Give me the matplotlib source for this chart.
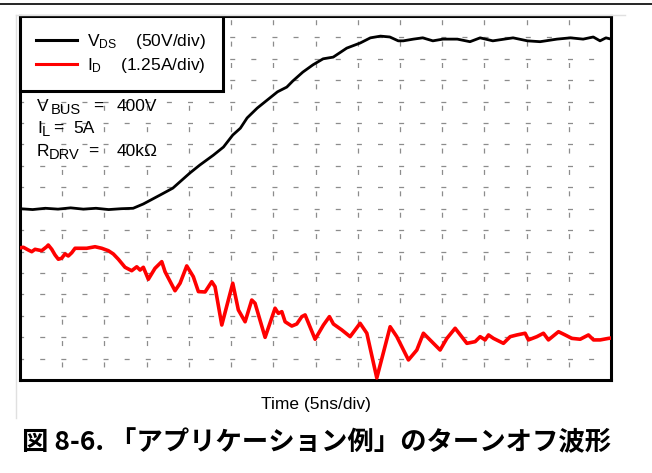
#!/usr/bin/env python3

import matplotlib
matplotlib.use('Agg')
import matplotlib.pyplot as plt
from matplotlib.lines import Line2D

plt.rcParams['font.family'] = ['Liberation Sans', 'DejaVu Sans']
plt.rcParams['mathtext.fontset'] = 'custom'
plt.rcParams['mathtext.rm'] = 'Liberation Sans'
plt.rcParams['mathtext.it'] = 'Liberation Sans:italic'
plt.rcParams['mathtext.bf'] = 'Liberation Sans:bold'
plt.rcParams['lines.scale_dashes'] = False

######################
# waveform data
######################
# V_DS : time [ns], voltage [V]
VDS_T = [0.0, 1.5, 3.0, 4.5, 6.0, 7.5, 9.0, 10.5, 12.0, 13.4, 14.6, 16.6, 18.1,
         20.1, 21.3, 22.9, 24.1, 25.2, 26.1, 26.9, 28.1, 29.3, 30.5, 31.6, 32.3,
         33.5, 34.7, 35.9, 37.1, 38.7, 40.3, 41.5, 42.7, 43.8, 44.8, 45.4, 46.6,
         47.7, 48.9, 50.1, 51.8, 53.3, 54.5, 56.0, 58.4, 60.1, 61.6, 63.6, 65.2,
         66.7, 67.9, 68.7, 69.4, 70.0]
VDS_V = [0, -2, 1, -1, 2, -1, 1, -2, 0, 1, 11, 32, 48,
         83, 102, 125, 144, 172, 188, 212, 235, 254, 273, 284, 298,
         319, 336, 350, 354, 375, 387, 399, 403, 401, 392, 392, 396,
         399, 392, 396, 396, 390, 399, 392, 399, 392, 390, 396, 399,
         396, 401, 392, 399, 396]

# I_D : time [ns], current [A]
ID_T = [0.00, 0.39, 0.98, 1.39, 1.78, 2.57, 3.16, 3.35, 3.76, 4.15, 4.54, 4.94,
        5.33, 5.72, 6.13, 6.52, 7.31, 7.90, 8.89, 9.68, 10.46, 11.05, 11.65,
        12.44, 13.23, 13.83, 14.22, 14.61, 15.20, 15.99, 16.79, 17.18, 18.36,
        18.96, 19.75, 20.53, 21.13, 21.92, 22.71, 23.10, 23.90, 25.20, 25.86,
        26.66, 27.45, 27.84, 29.03, 30.21, 30.60, 31.01, 31.40, 32.19, 32.78,
        33.38, 33.77, 34.95, 35.94, 36.65, 37.12, 38.12, 39.10, 40.28, 41.08,
        42.26, 43.84, 44.63, 46.01, 47.00, 47.78, 48.97, 49.76, 50.56, 51.54,
        52.93, 53.91, 54.50, 55.09, 55.49, 56.08, 57.26, 58.06, 58.85, 59.83,
        60.22, 61.22, 62.00, 62.59, 63.78, 64.57, 65.36, 66.35, 67.33, 67.93,
        68.72, 69.70, 70.00]
ID_A = [5.21, 5.25, 5.09, 4.99, 5.13, 5.05, 5.28, 5.38, 5.13, 4.80, 4.55, 4.61,
        4.86, 4.74, 4.93, 5.19, 5.19, 5.19, 5.28, 5.19, 5.05, 4.86, 4.55,
        4.08, 3.88, 4.11, 3.92, 4.08, 3.38, 4.02, 4.41, 3.82, 2.71,
        3.15, 4.16, 3.53, 2.66, 2.64, 3.24, 2.95, 0.71, 3.15, 1.59,
        0.90, 2.17, 1.98, -0.01, 1.69, 1.39, 1.49, 0.90, 0.65, 0.77,
        1.20, 1.30, -0.12, 0.71, 1.20, 0.77, 0.42, 0.03, 0.81, 0.23,
        -2.38, 0.61, 0.03, -1.33, -0.75, 0.23, -0.36, -0.75, -0.07, 0.52,
        -0.36, -0.26, 0.03, -0.16, 0.13, -0.07, -0.36, 0.03, 0.13, 0.23,
        -0.16, 0.03, 0.23, -0.16, 0.32, 0.13, -0.07, -0.12, 0.13, -0.16,
        -0.16, -0.07, -0.05]

# scope settings
T_DIV = 5.0        # ns/div
V_DIV = 50.0       # V/div
I_DIV = 1.25       # A/div
V_ZERO = 8         # division of the V_DS ground marker
I_ZERO = 2         # division of the I_D ground marker
N_XDIV = 14
N_YDIV = 17

vds_y = [V_ZERO + v / V_DIV for v in VDS_V]
id_y = [I_ZERO + i / I_DIV for i in ID_A]

W, H = 652, 473

def fx(px):
    return px / W

def fy(py):
    return 1 - py / H

###################
# plot
###################
fig = plt.figure(figsize=(W / 100, H / 100), dpi=100)
ax = fig.add_axes([fx(20), fy(380), 591 / W, 364 / H])

ax.set_xlim(0, N_XDIV * T_DIV)
ax.set_ylim(0, N_YDIV)
ax.set_xticks([])
ax.set_yticks([])

# scope graticule
for k in range(1, N_XDIV):
    ax.axvline(k * T_DIV, color='#8c8c8c', lw=0.9, ls=(6.0, (3.6, 11.8)), zorder=1)
for k in range(1, N_YDIV):
    ax.axhline(k, color='#8c8c8c', lw=0.9, ls=(1.0, (3.6, 11.6)), zorder=1)

ax.plot(VDS_T, vds_y, color='black', lw=2.0, solid_joinstyle='round',
        label=r'$\mathrm{V_{DS}}$    (50V/div)', zorder=3)
ax.plot(ID_T, id_y, color='#ff0000', lw=2.6, solid_joinstyle='round',
        label=r'$\mathrm{I_{D}}$    (1.25A/div)', zorder=3)

for s in ax.spines.values():
    s.set_linewidth(2.2)

leg = ax.legend(loc='upper left', bbox_to_anchor=(0, 1), borderaxespad=0,
                fancybox=False, framealpha=1, edgecolor='black', fontsize=12.5,
                handlelength=2.35, handletextpad=0.57, labelspacing=0.25,
                borderpad=0.95)
leg.get_frame().set_linewidth(2.2)
leg.set_zorder(5)
for h in leg.get_lines():
    h.set_linewidth(2.2)

# test conditions (main letter, subscript, value)
COND = [('V', 'BUS', '400V'), ('I', 'L', '5A'), ('R', 'DRV', '40kΩ')]
COND_POS = [(37, 51, 93, 117, 111), (37, 42, 53, 73, 133), (37, 49, 88, 117, 156)]
for (main, sub, val), (x0, xs, xe, xv, yb) in zip(COND, COND_POS):
    fig.text(fx(x0), fy(yb), main, fontsize=12.5, va='baseline')
    fig.text(fx(xs), fy(yb + 3), sub, fontsize=10.5, va='baseline')
    fig.text(fx(xe), fy(yb), '=', fontsize=12.5, va='baseline')
    fig.text(fx(xv), fy(yb), val, fontsize=12.5, va='baseline')

ax.set_xlabel('Time (5ns/div)', fontsize=12.5, labelpad=12)

# page rule and faint screenshot border
fig.add_artist(Line2D([0, 1], [fy(4), fy(4)], color='black', lw=1.2))
fig.add_artist(Line2D([fx(16), fx(625)], [fy(15), fy(15)], color='#e0e0e0', lw=1))
fig.add_artist(Line2D([fx(16), fx(16)], [fy(15), fy(418)], color='#e0e0e0', lw=1))

fig.text(fx(22), fy(443), '図 8-6. 「アプリケーション例」のターンオフ波形',
         fontsize=19.0, fontweight='bold', va='center', ha='left',
         family=['Noto Sans CJK JP', 'DejaVu Sans'])

plt.savefig('out.png', dpi=100)
